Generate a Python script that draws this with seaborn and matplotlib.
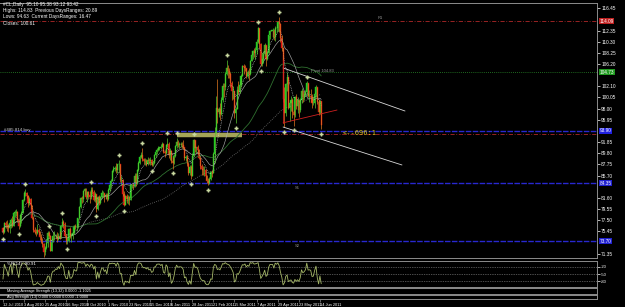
import numpy as np
import pandas as pd
import matplotlib
matplotlib.use("Agg")
import matplotlib.pyplot as plt
import seaborn as sns

# ---------------- data ----------------
first_open = 76.1
closes = [
    75.3, 77.0, 76.7, 76.6, 76.0, 77.0, 77.6, 76.5, 78.9, 78.9,
    79.0, 77.5, 76.5, 78.4, 78.9, 81.3, 82.5, 82.5, 82.0, 80.7,
    81.5, 80.3, 78.0, 75.7, 75.4, 75.2, 75.8, 75.4, 74.4, 73.5,
    73.1, 71.6, 72.5, 73.4, 75.2, 74.7, 71.9, 73.9, 74.6, 74.6,
    74.6, 74.1, 74.7, 74.3, 76.5, 77.2, 76.8, 74.6, 73.7, 73.7,
    75.9, 74.7, 74.7, 75.2, 76.5, 76.2, 76.2, 77.9, 80.0, 81.6,
    81.5, 82.8, 83.2, 81.7, 82.7, 82.2, 81.7, 83.0, 82.7, 81.3,
    82.4, 79.5, 81.8, 80.6, 81.7, 82.5, 82.6, 81.9, 82.2, 81.4,
    83.0, 83.9, 84.7, 86.5, 86.9, 87.1, 86.7, 87.8, 87.8, 84.9,
    84.9, 82.3, 80.4, 81.9, 81.5, 81.7, 81.2, 83.9, 83.9, 83.8,
    85.7, 84.1, 86.8, 88.0, 89.2, 89.4, 88.7, 88.3, 88.4, 87.8,
    88.6, 88.3, 88.6, 87.7, 88.0, 89.4, 90.0, 90.5, 90.8, 90.8,
    91.0, 91.5, 90.0, 89.8, 91.4, 91.6, 89.4, 90.3, 88.4, 88.0,
    89.25, 91.1, 91.9, 91.4, 91.5, 91.5, 91.4, 90.9, 88.9, 89.1,
    87.9, 86.2, 87.3, 85.6, 89.3, 92.2, 90.8, 90.9, 90.5, 89.0,
    87.5, 86.9, 86.7, 86.7, 85.6, 84.8, 84.3, 85.0, 86.4, 86.2,
    89.7, 93.6, 98.1, 97.3, 98.0, 97.0, 99.6, 102.2, 101.9, 104.4,
    105.4, 105.0, 104.4, 102.7, 101.2, 101.2, 97.2, 98.0, 101.4, 101.1,
    102.3, 104.0, 105.75, 105.6, 105.4, 104.0, 104.8, 104.3, 106.7, 107.9,
    108.5, 108.3, 108.8, 110.3, 112.8, 109.9, 106.25, 107.1, 108.1, 109.7,
    107.1, 108.2, 111.45, 112.3, 112.3, 112.3, 111.2, 112.8, 112.9, 113.9,
    113.5, 111.05, 109.2, 99.8, 97.2, 102.55, 103.9, 98.2, 99.0, 99.65,
    97.4, 96.9, 100.1, 98.4, 99.5, 97.7, 99.6, 101.3, 100.2, 100.6,
    101.0, 102.7, 100.3, 100.4, 100.2, 99.0, 99.1, 100.7, 101.9, 99.3,
    97.3, 99.4, 95.0,
]
highs = [
    76.3, 77.2, 77.3, 77.6, 76.9, 77.2, 77.9, 78.2, 79.1, 79.4,
    79.5, 79.3, 77.8, 78.6, 79.2, 81.5, 82.8, 83.2, 82.7, 82.1,
    81.8, 81.6, 80.3, 78.2, 76.2, 75.9, 76.9, 76.1, 75.6, 74.9,
    74.2, 73.3, 72.8, 74.0, 75.5, 75.6, 74.8, 74.2, 75.3, 75.6,
    75.0, 75.4, 75.2, 75.6, 76.7, 78.0, 77.6, 77.1, 75.0, 74.4,
    76.0, 76.3, 75.2, 75.6, 76.7, 76.9, 76.8, 78.0, 80.1, 81.8,
    81.9, 83.0, 83.5, 83.4, 82.9, 82.9, 82.8, 83.7, 83.6, 83.1,
    82.7, 82.4, 81.9, 82.2, 82.0, 83.1, 82.9, 82.4, 82.5, 82.6,
    83.5, 84.1, 85.1, 86.8, 87.4, 87.5, 88.0, 87.9, 88.6, 87.9,
    85.6, 85.0, 82.8, 82.1, 82.3, 82.1, 82.0, 84.1, 84.2, 84.3,
    86.1, 86.1, 87.0, 88.3, 89.5, 90.0, 90.8, 89.0, 89.0, 88.8,
    89.2, 89.0, 89.1, 88.8, 88.4, 89.6, 90.1, 90.8, 91.1, 91.0,
    91.6, 91.9, 91.7, 90.5, 91.6, 92.6, 91.9, 90.8, 90.4, 89.2,
    89.6, 91.4, 92.6, 92.2, 91.9, 91.9, 91.9, 92.3, 91.0, 89.5,
    89.5, 88.2, 87.6, 87.7, 89.9, 92.4, 92.3, 91.0, 91.3, 90.6,
    89.3, 87.9, 87.4, 87.4, 87.0, 85.8, 85.3, 85.5, 86.6, 86.8,
    90.0, 94.6, 100.3, 103.4, 98.3, 99.1, 100.1, 102.8, 102.7, 104.8,
    107.0, 106.1, 105.4, 104.8, 103.0, 102.2, 101.0, 98.3, 102.2, 103.1,
    103.1, 104.4, 106.0, 106.2, 106.0, 105.4, 105.1, 105.4, 106.9, 108.5,
    108.7, 109.2, 109.4, 110.8, 113.0, 112.2, 110.1, 108.3, 108.5, 110.0,
    109.4, 108.5, 111.6, 112.5, 112.4, 112.9, 112.6, 113.1, 113.6, 114.1,
    114.8, 113.7, 111.5, 109.4, 101.9, 102.8, 104.5, 103.9, 99.6, 100.4,
    99.9, 97.8, 100.4, 100.6, 100.2, 99.7, 99.9, 101.8, 101.5, 101.0,
    101.4, 103.0, 102.8, 101.4, 101.6, 100.7, 100.2, 101.0, 102.4, 101.8,
    99.8, 99.6, 99.4,
]
lows = [
    74.9, 75.2, 76.1, 75.6, 75.3, 75.1, 76.0, 76.2, 76.4, 78.1,
    78.2, 77.2, 75.9, 76.3, 77.0, 79.0, 81.0, 81.9, 81.6, 79.9,
    80.4, 79.6, 77.8, 75.4, 75.0, 74.6, 74.9, 74.8, 73.9, 73.3,
    72.6, 70.8, 71.1, 72.2, 72.6, 74.2, 71.8, 72.0, 73.6, 73.9,
    74.2, 73.6, 73.8, 74.0, 74.3, 76.3, 76.1, 74.4, 73.2, 73.1,
    73.6, 74.3, 73.5, 74.1, 75.0, 75.9, 75.5, 76.0, 77.8, 79.7,
    80.6, 80.9, 82.2, 81.4, 80.9, 81.6, 80.6, 81.5, 82.3, 81.1,
    80.8, 79.1, 79.4, 80.4, 80.5, 81.6, 81.8, 80.9, 81.4, 81.1,
    81.3, 82.8, 83.6, 84.9, 86.3, 86.5, 86.1, 86.1, 86.4, 84.6,
    84.0, 81.9, 80.2, 80.3, 80.7, 80.5, 80.3, 81.2, 83.4, 83.2,
    83.6, 83.8, 84.3, 86.6, 87.8, 88.9, 88.4, 87.9, 87.6, 87.4,
    87.7, 87.8, 87.7, 87.4, 87.5, 87.9, 89.2, 89.6, 90.2, 90.5,
    90.6, 90.9, 89.8, 89.1, 89.6, 91.0, 88.9, 88.6, 88.1, 87.0,
    87.8, 89.1, 90.8, 91.0, 90.7, 90.9, 90.8, 90.6, 88.5, 88.4,
    87.5, 85.8, 85.9, 85.1, 85.6, 89.4, 90.0, 89.8, 89.6, 88.7,
    86.9, 85.9, 85.8, 85.6, 84.9, 84.4, 83.9, 84.1, 84.9, 85.4,
    86.5, 88.0, 93.5, 95.3, 96.5, 96.0, 96.8, 99.3, 100.2, 101.5,
    104.1, 103.7, 103.6, 101.9, 99.6, 99.7, 96.2, 95.4, 98.0, 100.6,
    100.8, 102.0, 104.2, 104.3, 104.9, 103.7, 103.6, 103.2, 104.2, 106.8,
    107.2, 107.4, 107.2, 108.0, 110.0, 109.2, 105.8, 105.9, 106.4, 107.6,
    105.9, 106.9, 108.4, 110.8, 112.2, 111.0, 110.6, 110.4, 112.0, 112.3,
    112.0, 110.2, 108.6, 99.2, 94.6, 96.6, 101.2, 97.9, 95.8, 97.6,
    96.3, 94.9, 96.5, 98.0, 97.2, 96.4, 97.4, 99.1, 99.3, 99.6,
    100.3, 100.4, 100.1, 99.3, 99.3, 98.1, 98.7, 98.2, 100.2, 98.8,
    96.8, 97.0, 94.2,
]
date_labels = ["12 Jul 2010", "3 Aug 2010", "25 Aug 2010", "16 Sep 2010", "8 Oct 2010",
               "1 Nov 2010", "23 Nov 2010", "15 Dec 2010", "6 Jan 2011", "28 Jan 2011",
               "21 Feb 2011", "15 Mar 2011", "7 Apr 2011", "29 Apr 2011", "23 May 2011",
               "14 Jun 2011"]
date_label_idx = [0, 16, 32, 48, 64, 80, 96, 112, 128, 144, 160, 176, 193, 209, 225, 241]
price_ticks = [116.45, 112.35, 110.30, 108.25, 106.20, 102.10, 100.05,
               98.00, 95.95, 91.85, 89.80, 87.75, 85.70, 81.60, 79.55,
               77.50, 75.45, 71.35]
# horizontal levels
red_level = 114.09
pivot_level = 104.73
blue_levels = [93.90, 84.35, 73.70]
order_level = 93.35
khaki_zone = (132, 182, 93.2)
# drawn objects (bar index, price)
channel_upper = [(213, 105.47), (305.7, 97.57)]
channel_lower = [(213, 94.63), (303.4, 87.66)]
red_vertical = [(213, 106.9), (213, 95.4)]
red_diag = [(213, 95.4), (254, 97.75)]
info_lines = ["#CL,Daily  95.10 95.38 93.12 93.42",
              "Highs: 114.83  Previous DaysRanges: 20.89",
              "Lows: 94.63  Current DaysRanges: 16.47",
              "Closes: 100.61"]

# ---------------- derived ----------------
n = len(closes)
idx = np.arange(n)
c = np.array(closes)
o = np.concatenate([[first_open], c[:-1]])
h = np.maximum(np.array(highs), np.maximum(o, c))
l = np.minimum(np.array(lows), np.minimum(o, c))
s = pd.Series(c)
ema8 = s.ewm(span=8).mean()
sma20 = s.rolling(20, min_periods=1).mean()
sma50 = s.rolling(50, min_periods=1).mean()
sma100 = s.rolling(100, min_periods=1).mean()
hh = pd.Series(h).rolling(14, min_periods=1).max()
ll = pd.Series(l).rolling(14, min_periods=1).min()
wpr = -100 * (hh - s) / (hh - ll).replace(0, np.nan)
wpr = wpr.fillna(-50)
k = 6
hs, ls_ = pd.Series(h), pd.Series(l)
fr_up = (hs.rolling(2 * k + 1, center=True, min_periods=k + 1).max() == hs).to_numpy()
fr_dn = (ls_.rolling(2 * k + 1, center=True, min_periods=k + 1).min() == ls_).to_numpy()

# ---------------- figure ----------------
sns.set_theme(style="dark")
plt.rcParams['font.family'] = ['Liberation Sans', 'DejaVu Sans']
W, H = 625, 307
fig = plt.figure(figsize=(6.25, 3.07), dpi=100, facecolor='black')
axw = 597 / W
ax = fig.add_axes([0, 1 - 258 / H, axw, 255 / H])
ax_o = fig.add_axes([0, 1 - 287 / H, axw, 26 / H])
ax_2 = fig.add_axes([0, 1 - 294 / H, axw, 6 / H])
ax_3 = fig.add_axes([0, 1 - 299 / H, axw, 4 / H])
xl = (-3 / 1.315, (597 - 3) / 1.315)
grey = '#8c8c8c'
for a in (ax, ax_o, ax_2, ax_3):
    a.set_facecolor('black')
    a.set_xlim(*xl)
    a.grid(False)
    for sp in a.spines.values():
        sp.set_color(grey)
        sp.set_linewidth(0.7)
    a.spines['left'].set_visible(False)
    a.tick_params(axis='x', bottom=False, labelbottom=False)
    a.yaxis.tick_right()
    a.tick_params(axis='y', colors='white', labelsize=3.4, length=2, width=0.5, pad=1)

ax.set_ylim(70.58, 117.4)

# levels
ax.axhline(red_level, color='#b02828', lw=0.6, ls=(0, (5, 2, 1, 2)))
ax.axhline(pivot_level, color='#2a8a2a', lw=0.6, ls=(0, (1, 1.5)))
for bl in blue_levels:
    ax.axhline(bl, color='#2828d0', lw=1.0, ls=(0, (4, 1)))
ax.axhline(order_level, color='#b02828', lw=0.6, ls=(0, (5, 2, 1, 2)))
ax.plot([khaki_zone[0], khaki_zone[1]], [khaki_zone[2], khaki_zone[2]],
        color='#a4a456', lw=3.2, solid_capstyle='butt')

# moving averages
sns.lineplot(x=idx, y=sma100.values, ax=ax, color='#6e6e6e', lw=0.6, linestyle=(0, (1, 1.5)), legend=False)
sns.lineplot(x=idx, y=sma50.values, ax=ax, color='#2f6f2f', lw=0.6, legend=False)
sns.lineplot(x=idx, y=sma20.values, ax=ax, color='#a8a8a8', lw=0.45, legend=False)
sns.lineplot(x=idx, y=ema8.values, ax=ax, color='#d8d8d8', lw=0.5, linestyle=(0, (1, 1.5)), legend=False)

# candles
up = c >= o
wick_col = np.where(up, '#58c830', '#e07820')
ax.vlines(idx, l, h, colors=wick_col, lw=0.5)
body_col = np.where(up, '#22cc22', '#e01010')
ax.bar(idx, np.maximum(np.abs(c - o), 0.08), bottom=np.minimum(o, c), width=0.8,
       color=body_col, edgecolor=body_col, linewidth=0.3)

# fractals
ax.plot(idx[fr_up], h[fr_up] + 0.9, ls='none', marker='P', ms=2.6, color='#c8d8a0',
        mec='#c8d8a0', mew=0.2, zorder=6)
ax.plot(idx[fr_dn], l[fr_dn] - 0.9, ls='none', marker='P', ms=2.6, color='#c8d8a0',
        mec='#c8d8a0', mew=0.2, zorder=6)

# drawn objects
for seg, col in ((channel_upper, '#d8d8d8'), (channel_lower, '#d8d8d8'),
                 (red_vertical, '#d02020'), (red_diag, '#d02020')):
    xs, ys = zip(*seg)
    ax.plot(xs, ys, color=col, lw=0.6)

ax.text(258.5, 93.55, "<--696:1", color='#d8c020', fontsize=5, va='center', ha='left',
        family='DejaVu Sans Mono')
ax.text(234, 104.9, "Pivot 104.83", color='#9a9a9a', fontsize=3.0, va='center')
ax.text(285, red_level + 0.25, "R1", color='#909090', fontsize=3.0, va='bottom')
ax.text(222, blue_levels[1] - 0.5, "S1", color='#909090', fontsize=3.0, va='top')
ax.text(222, blue_levels[2] - 0.5, "S2", color='#909090', fontsize=3.0, va='top')
ax.text(0.5, order_level + 0.3, "#485.814 buy", color='#d0d0d0', fontsize=3.2, va='bottom')

ax.set_yticks(price_ticks)
ax.set_yticklabels([f"{v:.2f}" for v in price_ticks])
tr = ax.get_yaxis_transform()
for val, col in ((red_level, '#c02020'), (pivot_level, '#1f9a1f'), (blue_levels[0], '#2020e0'),
                 (blue_levels[1], '#2020d0'), (blue_levels[2], '#2020d0')):
    ax.text(1.004, val, f"{val:.2f}", transform=tr, color='white', fontsize=3.4,
            va='center', ha='left', bbox=dict(fc=col, ec='none', pad=0.5), clip_on=False)

for i, line in enumerate(info_lines):
    fig.text(3 / W, 1 - (2 + i * 6.2) / H, line, color='white', fontsize=3.4, va='top', ha='left')

# oscillator
ax_o.set_ylim(-105, 5)
for lv in (-20, -50, -80):
    ax_o.axhline(lv, color='#9a9a9a', lw=0.5, ls=(0, (1, 1.5)))
sns.lineplot(x=idx, y=wpr.values, ax=ax_o, color='#a6b868', lw=0.6, legend=False)
ax_o.set_yticks([-20, -50, -80])
ax_o.set_yticklabels(["-20", "-50", "-80"])
ax_o.tick_params(axis='y', labelsize=3.0)
ax_o.text(3, 0, "%R(14) -90.91", color='white', fontsize=3.2, va='top')

# strength panels
for a, txt in ((ax_2, "Moving Average Strength (13,32) 0.0000 -1.1025"),
               (ax_3, "Avg Strength (13) 0.000 0.0000 0.0000 -1.0000")):
    a.set_ylim(0, 1)
    a.set_yticks([])
    a.text(3, 0.5, txt, color='white', fontsize=2.8, va='center')

ax_3.tick_params(axis='x', bottom=True, labelbottom=True, colors='white', labelsize=2.8,
                 length=2, width=0.5, pad=0.8, color=grey)
ax_3.set_xticks(date_label_idx)
ax_3.set_xticklabels(date_labels, ha='left', family=['Liberation Sans Narrow', 'Liberation Sans'])

fig.savefig("out.png", dpi=100, facecolor='black')
